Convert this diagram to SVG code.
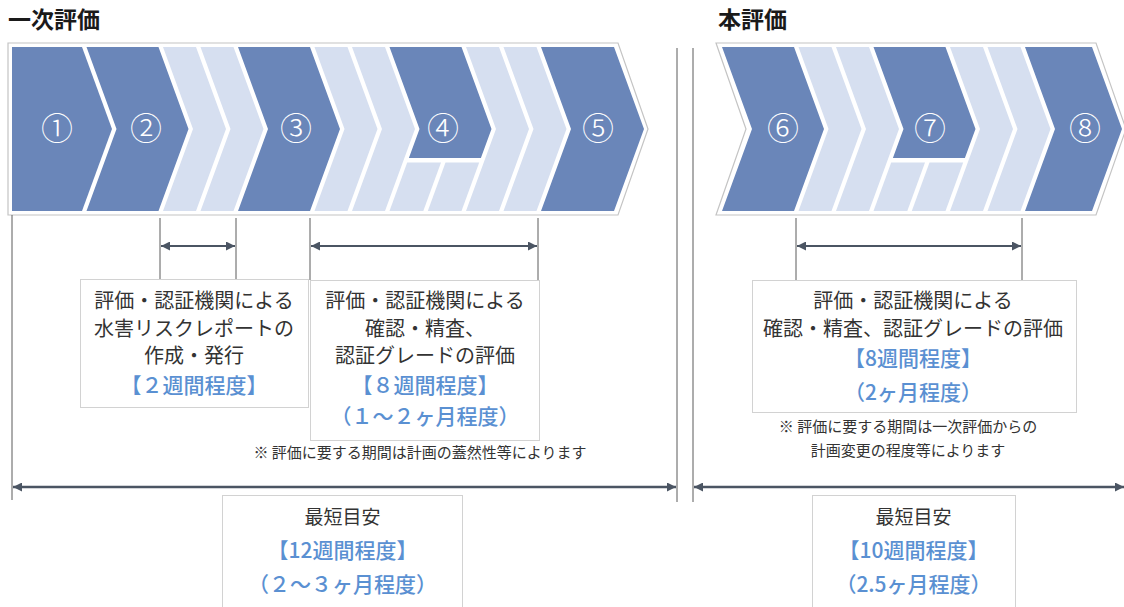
<svg xmlns="http://www.w3.org/2000/svg" width="1124" height="607" viewBox="0 0 1124 607">
<style>
  .frame { fill: #ffffff; stroke: #c4c4c4; stroke-width: 1.2; }
  .dk { fill: #6a86b9; }
  .lt { fill: #d6dff0; }
  .num { font-family: "Noto Sans CJK JP", "Noto Sans", sans-serif; font-size: 32px; font-weight: 300; fill: #ffffff; text-anchor: middle; }
  .title { font-family: "Noto Sans CJK JP", sans-serif; font-size: 23px; font-weight: bold; fill: #1a1a1a; }
  .box { fill: #ffffff; stroke: #d2d2d2; stroke-width: 1; }
  .t { font-family: "Noto Sans CJK JP", sans-serif; font-size: 20px; fill: #333333; text-anchor: middle; }
  .b { font-family: "Noto Sans CJK JP", sans-serif; font-size: 21px; font-weight: 500; fill: #5a90d2; text-anchor: middle; }
  .note { font-family: "Noto Sans CJK JP", sans-serif; font-size: 15px; fill: #333333; text-anchor: middle; }
  .tick { stroke: #5a5a5a; stroke-width: 1; fill: none; }
  .arr { stroke: #4b5563; stroke-width: 2; fill: none; marker-start: url(#ah); marker-end: url(#ah); }
  .arrL { stroke: #4b5563; stroke-width: 2.5; fill: none; marker-start: url(#ah); marker-end: url(#ah); }
</style>
<defs>
  <marker id="ah" viewBox="0 0 10 10" refX="10" refY="5" markerWidth="11" markerHeight="9" markerUnits="userSpaceOnUse" orient="auto-start-reverse">
    <path d="M0,0 L10,5 L0,10 Z" fill="#4b5563"/>
  </marker>
</defs>
<rect width="1124" height="607" fill="#ffffff"/>

<g id="title-first">
  <text class="title" x="8" y="28">一次評価</text>
</g>
<g id="title-main">
  <text class="title" x="718" y="28">本評価</text>
</g>

<g id="flow-first">
  <path class="frame" d="M8,43 H618 L648,129 L618,215 H8 Z"/>
  <polygon class="dk" points="12,47 82,47 112,129 82,211 12,211"/>
  <polygon class="dk" points="86.5,47 158.5,47 188.5,129 158.5,211 86.5,211 116.5,129"/>
  <polygon class="lt" points="163,47 196,47 226,129 196,211 163,211 193,129"/>
  <polygon class="lt" points="200.5,47 233.5,47 263.5,129 233.5,211 200.5,211 230.5,129"/>
  <polygon class="dk" points="238,47 310,47 340,129 310,211 238,211 268,129"/>
  <polygon class="lt" points="314.5,47 347.5,47 377.5,129 347.5,211 314.5,211 344.5,129"/>
  <polygon class="lt" points="352,47 385,47 415,129 385,211 352,211 382,129"/>
  <polygon class="dk" points="389.5,47 461.5,47 491.5,129 480.9,158 408.9,158 419.5,129"/>
  <polygon class="lt" points="407.2,162.5 441,162.5 423.3,211 389.5,211"/>
  <polygon class="lt" points="445.5,162.5 479.2,162.5 461.5,211 427.8,211"/>
  <polygon class="lt" points="466,47 499,47 529,129 499,211 466,211 496,129"/>
  <polygon class="lt" points="503.5,47 536.5,47 566.5,129 536.5,211 503.5,211 533.5,129"/>
  <polygon class="dk" points="541,47 614,47 644,129 614,211 541,211 571,129"/>
  <text class="num" x="57" y="140">①</text>
  <text class="num" x="146" y="140">②</text>
  <text class="num" x="296" y="140">③</text>
  <text class="num" x="443" y="140">④</text>
  <text class="num" x="598" y="140">⑤</text>
</g>

<g id="flow-main">
  <path class="frame" d="M716,43 H1096 L1126,129 L1096,215 H716 L746,129 Z"/>
  <polygon class="dk" points="722,47 794,47 824,129 794,211 722,211 752,129"/>
  <polygon class="lt" points="798.5,47 831.5,47 861.5,129 831.5,211 798.5,211 828.5,129"/>
  <polygon class="lt" points="836,47 869,47 899,129 869,211 836,211 866,129"/>
  <polygon class="dk" points="873.5,47 945.5,47 975.5,129 964.9,158 892.9,158 903.5,129"/>
  <polygon class="lt" points="891.2,162.5 925,162.5 907.3,211 873.5,211"/>
  <polygon class="lt" points="929.5,162.5 963.2,162.5 945.5,211 911.8,211"/>
  <polygon class="lt" points="950,47 983,47 1013,129 983,211 950,211 980,129"/>
  <polygon class="lt" points="987.5,47 1020.5,47 1050.5,129 1020.5,211 987.5,211 1017.5,129"/>
  <polygon class="dk" points="1025,47 1092,47 1122,129 1092,211 1025,211 1055,129"/>
  <text class="num" x="783" y="140">⑥</text>
  <text class="num" x="930" y="140">⑦</text>
  <text class="num" x="1085" y="140">⑧</text>
</g>

<g id="connectors">
  <line class="tick" x1="12" y1="215" x2="12" y2="500"/>
  <line class="tick" x1="677" y1="48" x2="677" y2="502"/>
  <line class="tick" x1="693" y1="48" x2="693" y2="502"/>
  <line class="tick" x1="160" y1="218" x2="160" y2="279"/>
  <line class="tick" x1="236" y1="218" x2="236" y2="279"/>
  <line class="tick" x1="310" y1="218" x2="310" y2="280"/>
  <line class="tick" x1="538" y1="218" x2="538" y2="280"/>
  <line class="tick" x1="796" y1="218" x2="796" y2="280"/>
  <line class="tick" x1="1022" y1="218" x2="1022" y2="280"/>
  <line class="arr" x1="161" y1="246" x2="235" y2="246"/>
  <line class="arr" x1="311" y1="246" x2="537" y2="246"/>
  <line class="arr" x1="797" y1="246" x2="1021" y2="246"/>
  <line class="arrL" x1="13" y1="487" x2="676" y2="487"/>
  <line class="arrL" x1="694" y1="487" x2="1124" y2="487"/>
</g>

<g id="box-report">
  <rect class="box" x="80.5" y="279.5" width="228" height="128"/>
  <text class="t" x="194" y="307.6">評価・認証機関による</text>
  <text class="t" x="194" y="335.6">水害リスクレポートの</text>
  <text class="t" x="194" y="362.6">作成・発行</text>
  <text class="b" x="194" y="393">【２週間程度】</text>
</g>

<g id="box-first-eval">
  <rect class="box" x="310.5" y="280.5" width="229" height="160"/>
  <text class="t" x="425" y="307.6">評価・認証機関による</text>
  <text class="t" x="425" y="335.6">確認・精査、</text>
  <text class="t" x="425" y="362.6">認証グレードの評価</text>
  <text class="b" x="425" y="393">【８週間程度】</text>
  <text class="b" x="425" y="424">（１～２ヶ月程度）</text>
</g>

<g id="note-first">
  <text class="note" x="420" y="457.7">※ 評価に要する期間は計画の蓋然性等によります</text>
</g>

<g id="box-main-eval">
  <rect class="box" x="752.5" y="280.5" width="324" height="132"/>
  <text class="t" x="913" y="307.6">評価・認証機関による</text>
  <text class="t" x="913" y="335.6">確認・精査、認証グレードの評価</text>
  <text class="b" x="913" y="366">【8週間程度】</text>
  <text class="b" x="913" y="400">（2ヶ月程度）</text>
</g>

<g id="note-main">
  <text class="note" x="908" y="431.7">※ 評価に要する期間は一次評価からの</text>
  <text class="note" x="908" y="455.7">計画変更の程度等によります</text>
</g>

<g id="box-total-first">
  <rect class="box" x="222.5" y="495.5" width="240" height="130"/>
  <text class="t" x="342.5" y="523.5" style="font-size:19px">最短目安</text>
  <text class="b" x="342.5" y="558">【12週間程度】</text>
  <text class="b" x="342.5" y="592">（２～３ヶ月程度）</text>
</g>

<g id="box-total-main">
  <rect class="box" x="812.5" y="495.5" width="203" height="130"/>
  <text class="t" x="913.5" y="523.5" style="font-size:19px">最短目安</text>
  <text class="b" x="913.5" y="558">【10週間程度】</text>
  <text class="b" x="913.5" y="592">（2.5ヶ月程度）</text>
</g>
</svg>
